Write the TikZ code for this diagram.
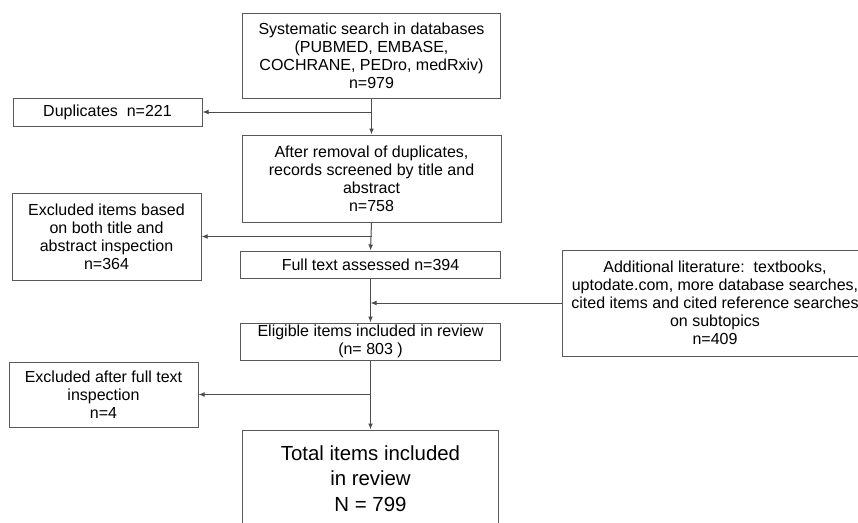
\documentclass[tikz,border=0pt]{standalone}
\usepackage{fontspec}
\setmainfont{Liberation Sans}
\usetikzlibrary{arrows.meta,calc}
\begin{document}
\begin{tikzpicture}[x=0.75pt,y=-0.75pt,
  box/.style={draw=black!65,line width=0.75pt,inner sep=0pt,align=center,
    font=\fontsize{12}{13.5}\selectfont,text=black},
  arr/.style={draw=black!70,line width=0.75pt,-{Latex[length=4.5pt,width=3.6pt]}}]
\useasboundingbox (0,0) rectangle (858,522);
\clip (0,0) rectangle (858,522);
\node[box,minimum width=193.5pt,minimum height=63.75pt] (top) at (371.5,55.5)
  {Systematic search in databases\\(PUBMED, EMBASE,\\COCHRANE, PEDro, medRxiv)\\n=979};
\node[box,minimum width=141.75pt,minimum height=21pt] (dup) at (107.5,112)
  {Duplicates\ \ n=221};
\node[box,minimum width=194.25pt,minimum height=65.25pt] (scr) at (371.5,178.5)
  {After removal of duplicates,\\records screened by title and\\abstract\\n=758};
\node[box,minimum width=141.75pt,minimum height=65.25pt] (exa) at (106.5,236.5)
  {Excluded items based\\on both title and\\abstract inspection\\n=364};
\node[box,minimum width=195pt,minimum height=20.25pt] (full) at (370.5,264.5)
  {Full text assessed n=394};
\node[box,minimum width=229.5pt,minimum height=79.5pt] (add) at (715,303)
  {Additional literature:\ \ textbooks,\\uptodate.com, more database searches,\\cited items and cited reference searches\\on subtopics\\n=409};
\node[box,minimum width=195pt,minimum height=27.75pt] (elig) at (370.5,341.5)
  {Eligible items included in review\\(n= 803 )};
\node[box,minimum width=141.75pt,minimum height=48.75pt] (exb) at (103.5,394.5)
  {Excluded after full text\\inspection\\n=4};
\node[box,minimum width=192pt,minimum height=72.75pt,
  font=\fontsize{15.3}{19.2}\selectfont] (tot) at (370.5,478.5)
  {Total items included\\in review\\N = 799};
\draw[arr] (top.south) -- (scr.north);
\draw[arr] (top.south |- dup.east) -- (dup.east);
\draw[arr] (scr.south) -- (full.north);
\draw[arr] (scr.south |- exa.east) -- (exa.east);
\draw[arr] (full.south) -- (elig.north);
\draw[arr] (add.west) -- (full.south |- add.west);
\draw[arr] (elig.south) -- (tot.north);
\draw[arr] (elig.south |- exb.east) -- (exb.east);
\end{tikzpicture}
\end{document}
